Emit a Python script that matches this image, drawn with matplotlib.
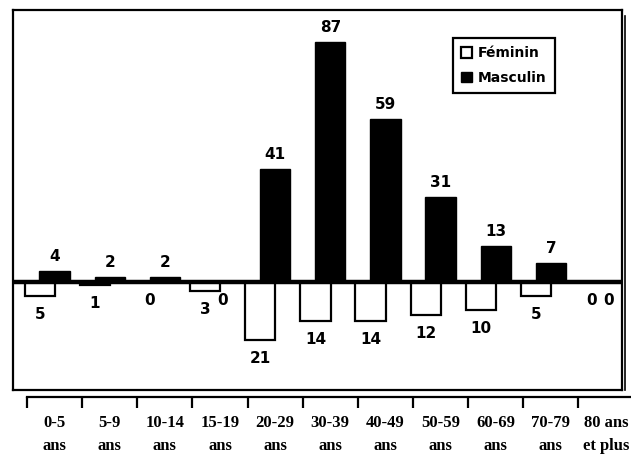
import numpy as np
from matplotlib import pyplot as plt
from matplotlib.patches import Patch

# data
groups = ['0-5\nans', '5-9\nans', '10-14\nans', '15-19\nans', '20-29\nans',
          '30-39\nans', '40-49\nans', '50-59\nans', '60-69\nans', '70-79\nans',
          '80 ans\net plus']
feminin = [5, 1, 0, 3, 21, 14, 14, 12, 10, 5, 0]
masculin = [4, 2, 2, 0, 41, 87, 59, 31, 13, 7, 0]

x = np.arange(len(groups))
W, H = 631, 457

fig = plt.figure(figsize=(W/100, H/100), dpi=100)
ax = fig.add_axes([13/W, (H-390)/H, 609/W, 380/H])

bw = 0.55
# feminine bars hang below the zero line, masculine ones stand on it
ax.bar(x - 0.27, [-v for v in feminin], width=bw, color='white',
       edgecolor='black', linewidth=1.6, zorder=2)
ax.bar(x, masculin, width=bw, color='black', edgecolor='black', zorder=2)
ax.axhline(0, color='black', lw=3.2, zorder=3)

for i in range(len(groups)):
    ax.annotate(str(feminin[i]), (x[i] - 0.27, -feminin[i]), xytext=(0, -8),
                textcoords='offset points', ha='center', va='top',
                fontsize=11, fontweight='bold', zorder=4)
    if masculin[i] > 0:
        ax.annotate(str(masculin[i]), (x[i], masculin[i]), xytext=(0, 5),
                    textcoords='offset points', ha='center', va='bottom',
                    fontsize=11, fontweight='bold', zorder=4)
    else:
        ax.annotate('0', (x[i] + 0.05, 0), xytext=(0, -8),
                    textcoords='offset points', ha='center', va='top',
                    fontsize=11, fontweight='bold', zorder=4)

ax.set_xlim(-0.754, 10.29)
ax.set_ylim(-39, 98.5)

# frame of the plot area
for s in ['left', 'top', 'right']:
    ax.spines[s].set_linewidth(1.6)
ax.plot([0, 1], [0, 0], transform=ax.transAxes, color='black', lw=1.6,
        clip_on=False)
ax.plot([1.005, 1.005], [0, 0.985], transform=ax.transAxes, color='black',
        lw=1.2, clip_on=False)

# axis with tick marks below the frame
ax.spines['bottom'].set_position(('outward', 5))
ax.spines['bottom'].set_linewidth(1.6)
ax.spines['bottom'].set_bounds(-0.5, 10.45)
ax.set_yticks([])
ax.set_xticks(x - 0.5)
ax.set_xticklabels([])
ax.tick_params(axis='x', which='major', direction='out', length=8, width=1.6)
ax.set_xticks(x, minor=True)
ax.set_xticklabels(groups, minor=True, fontfamily='Liberation Serif',
                   fontweight='bold', fontsize=12, linespacing=1.55)
ax.tick_params(axis='x', which='minor', length=0, pad=13)

handles = [Patch(facecolor='white', edgecolor='black', lw=1.6, label='Féminin'),
           Patch(facecolor='black', edgecolor='black', label='Masculin')]
leg = ax.legend(handles=handles, loc='upper left', bbox_to_anchor=(0.7225, 0.926),
                fancybox=False, edgecolor='black', framealpha=1,
                prop={'weight': 'bold', 'size': 10}, handlelength=0.8,
                handleheight=0.8, handletextpad=0.4, labelspacing=0.75,
                borderpad=0.6, borderaxespad=0)
leg.get_frame().set_linewidth(1.6)

fig.savefig('out.png', dpi=100)
